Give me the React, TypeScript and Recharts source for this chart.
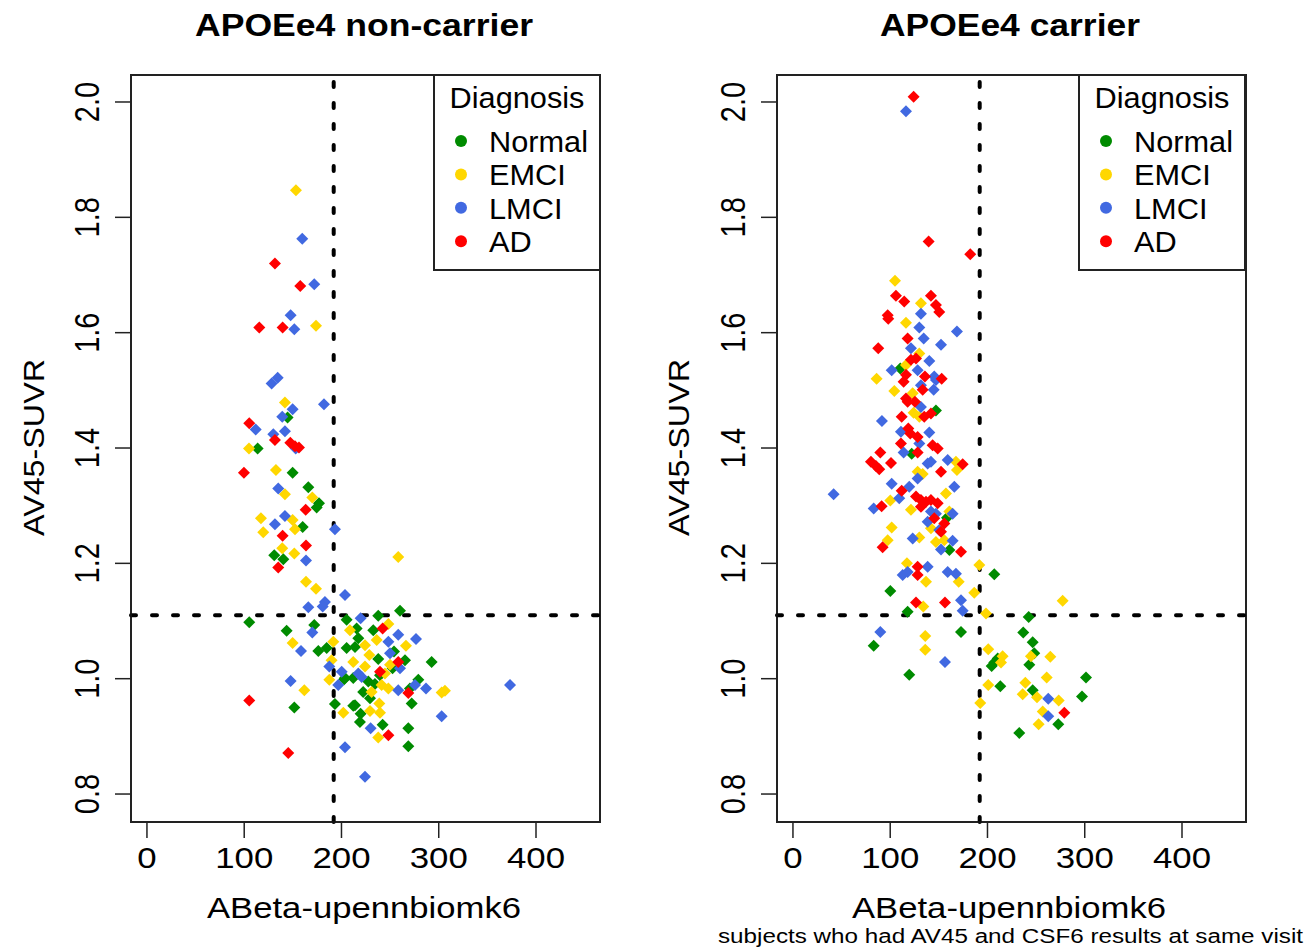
import { ScatterChart, Scatter, XAxis, YAxis, ReferenceLine, ReferenceArea } from 'recharts';

const DIAGNOSES = ['Normal', 'EMCI', 'LMCI', 'AD'];
const COLORS = ['#008B00', '#FFD700', '#4169E1', '#FF0000'];
const X_TICKS = [0, 100, 200, 300, 400];
const Y_TICKS = [0.8, 1.0, 1.2, 1.4, 1.6, 1.8, 2.0];
const ABETA_CUTOFF = 192;
const SUVR_CUTOFF = 1.11;

// [ABeta-upennbiomk6, AV45-SUVR]
const nonCarrierNormal: [number, number][] = [
    [113.8, 1.399], [144.6, 1.453], [149.8, 1.357], [165.9, 1.332], [176.9, 1.304], [174.5, 1.297],
    [160.1, 1.263], [130.9, 1.214], [140.2, 1.207], [105.2, 1.098], [143.6, 1.083], [172, 1.093],
    [176.2, 1.048], [184.8, 1.053], [205.3, 1.053], [205.3, 1.102], [202.8, 0.999], [151.5, 0.95],
    [193.3, 0.956], [212.1, 0.953], [260.2, 1.118], [237.8, 1.109], [215.6, 1.087], [232.7, 1.084],
    [217.3, 1.07], [213.9, 1.055], [254, 1.047], [237.8, 1.034], [265.3, 1.032], [292.7, 1.029],
    [252.5, 1.018], [239.6, 1.006], [203.6, 1.001], [212.1, 1.001], [227.6, 0.995], [234.4, 0.991],
    [270.4, 0.983], [279, 0.998], [222.3, 0.977], [229.3, 0.966], [213.9, 0.954], [272.2, 0.957],
    [219.7, 0.939], [219, 0.925], [242.3, 0.92], [268.7, 0.914], [268.7, 0.883],
];
const nonCarrierEMCI: [number, number][] = [
    [153.2, 1.847], [173.8, 1.612], [141.9, 1.479], [104.9, 1.399], [132.6, 1.362], [141.9, 1.32],
    [170, 1.314], [117.2, 1.278], [149.8, 1.275], [152.2, 1.259], [119.6, 1.254], [139.1, 1.226],
    [151.5, 1.217], [163.5, 1.168], [173.8, 1.156], [149.8, 1.062], [191.6, 1.064], [208.7, 1.084],
    [189.8, 1.032], [212.1, 1.029], [187.5, 0.998], [161.8, 0.98], [201.9, 0.941], [258.4, 1.211],
    [248.2, 1.095], [236.2, 1.067], [224.2, 1.058], [266.3, 1.057], [228.6, 1.041], [224.2, 1.021],
    [249.9, 1.024], [244.7, 1.009], [241.3, 0.989], [248.2, 0.983], [303, 0.976], [306.4, 0.979],
    [231, 0.977], [238.9, 0.957], [229.3, 0.944], [239.6, 0.941], [237.8, 0.898],
];
const nonCarrierLMCI: [number, number][] = [
    [159.7, 1.763], [172, 1.684], [147.7, 1.63], [151.5, 1.606], [128.2, 1.512], [134.4, 1.522],
    [149.8, 1.467], [182, 1.476], [139.1, 1.454], [111.8, 1.432], [129.9, 1.424], [141.9, 1.429],
    [152.9, 1.399], [135, 1.33], [141.9, 1.282], [131.6, 1.268], [193.3, 1.259], [163.5, 1.205],
    [203.6, 1.145], [183, 1.133], [180.7, 1.125], [165.9, 1.124], [170, 1.08], [158.4, 1.048],
    [187.5, 1.021], [200.2, 1.012], [196.7, 0.989], [147.7, 0.996], [203.6, 0.881], [219.7, 1.105],
    [258.4, 1.076], [276.6, 1.069], [248.2, 1.064], [249.9, 1.044], [260.2, 1.018], [217.3, 1.009],
    [220.8, 1.003], [258.4, 0.98], [275.6, 0.989], [286.9, 0.983], [373.3, 0.989], [303, 0.935],
    [230, 0.914], [224.2, 0.83],
];
const nonCarrierAD: [number, number][] = [
    [131.6, 1.72], [157.6, 1.681], [115.5, 1.609], [139.5, 1.609], [105.2, 1.443], [131.6, 1.414],
    [147.4, 1.409], [152.2, 1.403], [156.3, 1.401], [99.7, 1.357], [163.2, 1.293], [139.5, 1.248],
    [163.5, 1.231], [135, 1.193], [105.2, 0.962], [145.3, 0.871], [242.3, 1.087], [258.4, 1.029],
    [239.6, 1.012], [268.7, 0.975], [248.2, 0.902],
];

const carrierNormal: [number, number][] = [
    [110.3, 1.538], [147, 1.465], [122.1, 1.39], [158.4, 1.279], [160.8, 1.223], [207, 1.181],
    [100.1, 1.152], [117.9, 1.116], [172.8, 1.081], [83, 1.057], [119.6, 1.007], [242.4, 1.107],
    [236.8, 1.08], [246.5, 1.063], [210.5, 1.035], [207, 1.028], [204.3, 1.022], [248.1, 1.044],
    [243, 1.024], [213.2, 0.987], [246.5, 0.98], [301.3, 1.002], [297.2, 0.969], [272.8, 0.921],
    [232.7, 0.906],
];
const carrierEMCI: [number, number][] = [
    [104.9, 1.69], [131.6, 1.651], [116.2, 1.617], [129.9, 1.564], [116.2, 1.544], [86, 1.52],
    [104.2, 1.499], [123.1, 1.495], [124.1, 1.461], [129.9, 1.454], [167.6, 1.376], [168.6, 1.362],
    [128.2, 1.359], [133.4, 1.355], [157.3, 1.321], [100.1, 1.309], [121.3, 1.293], [160.8, 1.29],
    [141.9, 1.261], [101.5, 1.262], [129.9, 1.245], [97.4, 1.24], [147, 1.237], [155.6, 1.24],
    [191.6, 1.197], [117.2, 1.2], [136.8, 1.168], [170.4, 1.168], [186.4, 1.149], [134, 1.125],
    [198.5, 1.113], [136, 1.074], [136, 1.05], [200.8, 1.051], [277.3, 1.135], [215.6, 1.039],
    [213.9, 1.028], [244.7, 1.039], [264.6, 1.038], [200.8, 0.989], [238.9, 0.993], [236.2, 0.973],
    [250.9, 0.968], [260.9, 1.002], [273.2, 0.962], [192.6, 0.958], [256.8, 0.943], [252.6, 0.921],
];
const carrierLMCI: [number, number][] = [
    [116.2, 1.984], [131.6, 1.633], [129.9, 1.609], [168.6, 1.602], [134.4, 1.59], [152.2, 1.579],
    [121.3, 1.573], [140.2, 1.551], [101.5, 1.535], [128.2, 1.535], [145.3, 1.524], [147, 1.518],
    [131.6, 1.509], [144.7, 1.501], [131.6, 1.471], [91.5, 1.447], [111, 1.428], [140.2, 1.427],
    [129.9, 1.408], [113.8, 1.392], [138.5, 1.373], [141.9, 1.376], [159.1, 1.379], [128.2, 1.347],
    [101.5, 1.338], [119.6, 1.333], [165.9, 1.333], [41.8, 1.32], [109.3, 1.313], [83, 1.295],
    [141.9, 1.29], [147, 1.286], [164.2, 1.286], [138.5, 1.272], [150.4, 1.258], [123.1, 1.243],
    [164.2, 1.239], [152.2, 1.224], [138.5, 1.194], [159.1, 1.185], [167.6, 1.182], [112.8, 1.18],
    [117.9, 1.185], [172.8, 1.136], [174.5, 1.118], [89.8, 1.081], [156.3, 1.029], [262.5, 0.965],
    [262.5, 0.935],
];
const carrierAD: [number, number][] = [
    [124.1, 2.009], [139.5, 1.758], [182.3, 1.736], [105.9, 1.664], [114.4, 1.654], [141.9, 1.664],
    [147, 1.648], [150.4, 1.636], [97.4, 1.63], [98, 1.624], [117.9, 1.59], [87.7, 1.573],
    [126.5, 1.555], [121.3, 1.553], [116.2, 1.527], [113.8, 1.515], [135.7, 1.524], [152.9, 1.52],
    [133.4, 1.501], [116.2, 1.486], [117.9, 1.48], [125.4, 1.48], [141.9, 1.46], [135, 1.454],
    [111.8, 1.454], [118.6, 1.434], [120.6, 1.425], [128.2, 1.419], [111, 1.408], [143.6, 1.405],
    [148.8, 1.399], [89.8, 1.392], [128.2, 1.392], [80.2, 1.376], [85.3, 1.369], [88.7, 1.363],
    [100.8, 1.374], [174.5, 1.372], [152.2, 1.359], [111.8, 1.326], [126.5, 1.316], [131.6, 1.31],
    [136.8, 1.307], [141.9, 1.31], [148.8, 1.304], [131.6, 1.298], [91.2, 1.299], [145.3, 1.278],
    [155.6, 1.269], [152.2, 1.255], [92.2, 1.228], [172.8, 1.22], [128.2, 1.194], [128.2, 1.18],
    [126.5, 1.132], [156.3, 1.132], [279, 0.941],
];

const FONT = '"Liberation Sans", Arial, sans-serif';
const X_DOMAIN: [number, number] = [-16.4, 465.8];
const Y_DOMAIN: [number, number] = [0.7515, 2.0468];
const SX = 1.2; // the original render is a bit wide

const toPoints = (arr: [number, number][]) => arr.map(([x, y]) => ({ x, y }));

const Diamond = (props: any) => {
    const { cx, cy, fill } = props;
    if (cx == null || cy == null) return null;
    const r = 6;
    return <path d={`M${cx},${cy - r}L${cx + r},${cy}L${cx},${cy + r}L${cx - r},${cy}Z`} fill={fill} />;
};

const XTick = (props: any) => {
    const { x, y, payload } = props;
    return (
        <text transform={`translate(${x},${y + 30}) scale(${SX},1)`} textAnchor="middle" fontSize={29} fontFamily={FONT} fill="#000">
            {payload.value}
        </text>
    );
};

const YTick = (props: any) => {
    const { x, y, payload } = props;
    return (
        <text transform={`translate(${x - 16},${y}) scale(${SX},1) rotate(-90)`} textAnchor="middle" fontSize={29} fontFamily={FONT} fill="#000">
            {Number(payload.value).toFixed(1)}
        </text>
    );
};

interface PanelProps {
    left: number;
    width: number;
    series: [number, number][][];
}

function Panel({ left, width, series }: PanelProps) {
    return (
        <div style={{ position: 'absolute', left, top: 0 }}>
            <ScatterChart width={width} height={947} margin={{ top: 75, right: width - 131 - 469, bottom: 0, left: 0 }}>
                <XAxis
                    type="number"
                    dataKey="x"
                    domain={X_DOMAIN}
                    allowDataOverflow
                    ticks={X_TICKS}
                    interval={0}
                    height={125}
                    tickSize={16}
                    tickMargin={0}
                    tick={XTick}
                    stroke="#222"
                    tickLine={{ stroke: '#222', strokeWidth: 1.5 }}
                />
                <YAxis
                    type="number"
                    dataKey="y"
                    domain={Y_DOMAIN}
                    allowDataOverflow
                    ticks={Y_TICKS}
                    interval={0}
                    width={131}
                    tickSize={16}
                    tickMargin={0}
                    tick={YTick}
                    stroke="#222"
                    tickLine={{ stroke: '#222', strokeWidth: 1.5 }}
                />
                <ReferenceArea
                    x1={X_DOMAIN[0]}
                    x2={X_DOMAIN[1]}
                    y1={Y_DOMAIN[0]}
                    y2={Y_DOMAIN[1]}
                    fill="none"
                    stroke="#222"
                    strokeWidth={2}
                    ifOverflow="visible"
                />
                {series.map((s, i) => (
                    <Scatter
                        key={DIAGNOSES[i]}
                        name={DIAGNOSES[i]}
                        data={toPoints(s)}
                        fill={COLORS[i]}
                        shape={Diamond}
                        isAnimationActive={false}
                    />
                ))}
                <ReferenceLine x={ABETA_CUTOFF} stroke="#000" strokeWidth={4} strokeDasharray="5 16" strokeLinecap="round" />
                <ReferenceLine y={SUVR_CUTOFF} stroke="#000" strokeWidth={4} strokeDasharray="5 16" strokeLinecap="round" />
            </ScatterChart>
        </div>
    );
}

// legend box in the top right corner of each panel, R style
function DiagnosisLegend({ x }: { x: number }) {
    return (
        <g>
            <rect x={x} y={75} width={166} height={195} fill="#fff" stroke="#222" strokeWidth={2} />
            <text transform={`translate(${x + 83},108) scale(1.06,1)`} textAnchor="middle" fontSize={29} fontFamily={FONT}>
                Diagnosis
            </text>
            {DIAGNOSES.map((d, i) => (
                <g key={d}>
                    <circle cx={x + 27} cy={141 + i * 33.4} r={6} fill={COLORS[i]} />
                    <text transform={`translate(${x + 55},${152 + i * 33.4}) scale(1.06,1)`} fontSize={29} fontFamily={FONT}>
                        {d}
                    </text>
                </g>
            ))}
        </g>
    );
}

export default function App() {
    return (
        <div style={{ position: 'absolute', left: 0, top: 0, width: 1306, height: 947, background: '#fff', overflow: 'hidden' }}>
            <Panel left={0} width={653} series={[nonCarrierNormal, nonCarrierEMCI, nonCarrierLMCI, nonCarrierAD]} />
            <Panel left={646} width={660} series={[carrierNormal, carrierEMCI, carrierLMCI, carrierAD]} />
            <svg width={1306} height={947} style={{ position: 'absolute', left: 0, top: 0, pointerEvents: 'none' }}>
                <text x={195} y={36} textLength={338} lengthAdjust="spacingAndGlyphs" fontSize={31} fontWeight="bold" fontFamily={FONT}>
                    APOEe4 non-carrier
                </text>
                <text x={880} y={36} textLength={260} lengthAdjust="spacingAndGlyphs" fontSize={31} fontWeight="bold" fontFamily={FONT}>
                    APOEe4 carrier
                </text>
                <text x={207} y={918} textLength={314} lengthAdjust="spacingAndGlyphs" fontSize={29} fontFamily={FONT}>
                    ABeta-upennbiomk6
                </text>
                <text x={852} y={918} textLength={314} lengthAdjust="spacingAndGlyphs" fontSize={29} fontFamily={FONT}>
                    ABeta-upennbiomk6
                </text>
                <text transform="translate(44,536) rotate(-90)" textLength={177} lengthAdjust="spacingAndGlyphs" fontSize={29} fontFamily={FONT}>
                    AV45-SUVR
                </text>
                <text transform="translate(689,536) rotate(-90)" textLength={177} lengthAdjust="spacingAndGlyphs" fontSize={29} fontFamily={FONT}>
                    AV45-SUVR
                </text>
                <text x={718} y={943} textLength={585} lengthAdjust="spacingAndGlyphs" fontSize={20} fontFamily={FONT}>
                    subjects who had AV45 and CSF6 results at same visit
                </text>
                <DiagnosisLegend x={434} />
                <DiagnosisLegend x={1079} />
            </svg>
        </div>
    );
}
